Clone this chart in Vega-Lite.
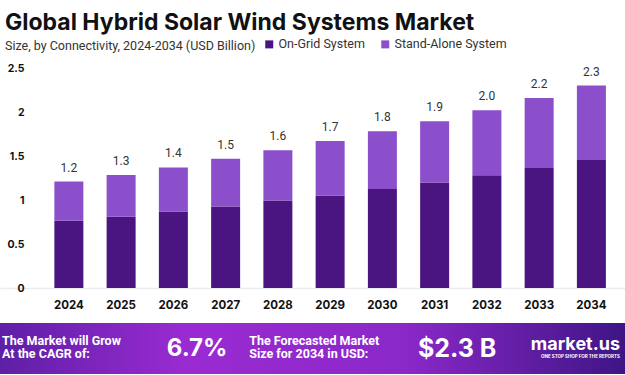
{
  "$schema": "https://vega.github.io/schema/vega-lite/v6.json",
  "background": "white",
  "padding": {"left": 0, "top": 11, "right": 0, "bottom": 0},
  "spacing": 12,
  "title": {
    "text": "Global Hybrid Solar Wind Systems Market",
    "subtitle": "Size, by Connectivity, 2024-2034 (USD Billion)",
    "anchor": "start",
    "frame": "bounds",
    "dx": 5,
    "offset": -14,
    "font": "Inter",
    "fontSize": 23,
    "fontWeight": "bold",
    "color": "#111111",
    "subtitleFont": "Roboto",
    "subtitleFontSize": 12.5,
    "subtitleColor": "#333333",
    "subtitlePadding": 5
  },
  "datasets": {
    "bars": [
      {"year": "2024", "system": "On-Grid System", "value": 0.765},
      {"year": "2024", "system": "Stand-Alone System", "value": 0.445},
      {"year": "2025", "system": "On-Grid System", "value": 0.81},
      {"year": "2025", "system": "Stand-Alone System", "value": 0.475},
      {"year": "2026", "system": "On-Grid System", "value": 0.87},
      {"year": "2026", "system": "Stand-Alone System", "value": 0.5},
      {"year": "2027", "system": "On-Grid System", "value": 0.925},
      {"year": "2027", "system": "Stand-Alone System", "value": 0.545},
      {"year": "2028", "system": "On-Grid System", "value": 0.995},
      {"year": "2028", "system": "Stand-Alone System", "value": 0.57},
      {"year": "2029", "system": "On-Grid System", "value": 1.05},
      {"year": "2029", "system": "Stand-Alone System", "value": 0.62},
      {"year": "2030", "system": "On-Grid System", "value": 1.125},
      {"year": "2030", "system": "Stand-Alone System", "value": 0.655},
      {"year": "2031", "system": "On-Grid System", "value": 1.2},
      {"year": "2031", "system": "Stand-Alone System", "value": 0.695},
      {"year": "2032", "system": "On-Grid System", "value": 1.28},
      {"year": "2032", "system": "Stand-Alone System", "value": 0.74},
      {"year": "2033", "system": "On-Grid System", "value": 1.365},
      {"year": "2033", "system": "Stand-Alone System", "value": 0.795},
      {"year": "2034", "system": "On-Grid System", "value": 1.455},
      {"year": "2034", "system": "Stand-Alone System", "value": 0.845}
    ],
    "totals": [
      {"year": "2024", "total": 1.21, "label": "1.2"},
      {"year": "2025", "total": 1.285, "label": "1.3"},
      {"year": "2026", "total": 1.37, "label": "1.4"},
      {"year": "2027", "total": 1.47, "label": "1.5"},
      {"year": "2028", "total": 1.565, "label": "1.6"},
      {"year": "2029", "total": 1.67, "label": "1.7"},
      {"year": "2030", "total": 1.78, "label": "1.8"},
      {"year": "2031", "total": 1.895, "label": "1.9"},
      {"year": "2032", "total": 2.02, "label": "2.0"},
      {"year": "2033", "total": 2.16, "label": "2.2"},
      {"year": "2034", "total": 2.3, "label": "2.3"}
    ],
    "banner": [
      {"key": "a", "kind": "small", "text": "The Market will Grow\nAt the CAGR of:"},
      {"key": "b", "kind": "bigleft", "text": "6.7%"},
      {"key": "c", "kind": "small", "text": "The Forecasted Market\nSize for 2034 in USD:"},
      {"key": "d", "kind": "bigright", "text": "$2.3 B"},
      {"key": "e", "kind": "logo", "text": "market.us"},
      {"key": "e", "kind": "tag", "text": "ONE STOP SHOP FOR THE REPORTS"}
    ]
  },
  "vconcat": [
    {
      "width": 625,
      "height": 220,
      "layer": [
        {
          "data": {"name": "bars"},
          "mark": {"type": "bar"},
          "encoding": {
            "x": {
              "field": "year",
              "type": "nominal",
              "scale": {"paddingInner": 0.445, "paddingOuter": 0.703, "align": 0.74},
              "axis": {
                "title": null,
                "labelAngle": 0,
                "labelFont": "Inter",
                "labelFontSize": 11.5,
                "labelFontWeight": "bold",
                "labelColor": "#111111",
                "labelPadding": 11,
                "ticks": false,
                "domainColor": "#ececec",
                "domainWidth": 1.5
              }
            },
            "y": {
              "field": "value",
              "type": "quantitative",
              "stack": "zero",
              "scale": {"domain": [0, 2.5], "nice": false},
              "axis": {
                "title": null,
                "values": [0, 0.5, 1, 1.5, 2, 2.5],
                "format": "~g",
                "grid": false,
                "domain": false,
                "ticks": false,
                "offset": -24,
                "labelAlign": "right",
                "labelFont": "Inter",
                "labelFontSize": 10.5,
                "labelFontWeight": "bold",
                "labelColor": "#111111",
                "labelPadding": 0
              }
            },
            "color": {
              "field": "system",
              "type": "nominal",
              "scale": {
                "domain": ["On-Grid System", "Stand-Alone System"],
                "range": ["#4a1580", "#8b4fcc"]
              },
              "legend": {
                "title": null,
                "orient": "none",
                "direction": "horizontal",
                "legendX": 263,
                "legendY": -30,
                "symbolType": "square",
                "symbolSize": 64,
                "symbolStrokeWidth": 0,
                "labelFont": "Roboto",
                "labelFontSize": 12.5,
                "labelColor": "#333333",
                "labelOffset": 3,
                "columnPadding": 14
              }
            },
            "order": {"field": "system", "sort": "ascending"}
          }
        },
        {
          "data": {"name": "totals"},
          "mark": {
            "type": "text",
            "baseline": "alphabetic",
            "dy": -10,
            "font": "Roboto",
            "fontSize": 12,
            "color": "#333333"
          },
          "encoding": {
            "x": {"field": "year", "type": "nominal"},
            "y": {"field": "total", "type": "quantitative"},
            "text": {"field": "label"}
          }
        }
      ]
    },
    {
      "width": 625,
      "height": 51,
      "data": {"name": "banner"},
      "encoding": {
        "x": {
          "field": "key",
          "type": "nominal",
          "scale": {
            "type": "point",
            "padding": 0,
            "domain": ["a", "f1", "f2", "f3", "b", "f4", "c", "f5", "f6", "f7", "f8", "f9", "d", "f10", "f11", "e"],
            "range": [2, 620]
          },
          "axis": null
        }
      },
      "layer": [
        {
          "mark": {
            "type": "rect",
            "color": {
              "gradient": "linear",
              "x1": 0, "y1": 0, "x2": 1, "y2": 0,
              "stops": [
                {"offset": 0, "color": "#5e1fa6"},
                {"offset": 0.3, "color": "#9a2bd2"},
                {"offset": 0.65, "color": "#8a28c8"},
                {"offset": 1, "color": "#3e1585"}
              ]
            }
          },
          "encoding": {"x": null}
        },
        {
          "transform": [{"filter": "datum.kind === 'small'"}],
          "mark": {
            "type": "text",
            "align": "left",
            "baseline": "middle",
            "lineBreak": "\n",
            "lineHeight": 13.5,
            "dy": -8,
            "font": "Roboto",
            "fontSize": 12.5,
            "fontWeight": "bold",
            "color": "white"
          },
          "encoding": {"text": {"field": "text"}}
        },
        {
          "transform": [{"filter": "datum.kind === 'bigleft'"}],
          "mark": {
            "type": "text",
            "align": "left",
            "baseline": "middle",
            "font": "Inter",
            "fontSize": 24,
            "fontWeight": "bold",
            "color": "white"
          },
          "encoding": {"text": {"field": "text"}}
        },
        {
          "transform": [{"filter": "datum.kind === 'bigright'"}],
          "mark": {
            "type": "text",
            "align": "right",
            "baseline": "middle",
            "font": "Inter",
            "fontSize": 25,
            "fontWeight": "bold",
            "color": "white"
          },
          "encoding": {"text": {"field": "text"}}
        },
        {
          "transform": [{"filter": "datum.kind === 'logo'"}],
          "mark": {
            "type": "text",
            "align": "right",
            "baseline": "middle",
            "dy": -4,
            "font": "Inter",
            "fontSize": 18,
            "fontWeight": "bold",
            "color": "white"
          },
          "encoding": {"text": {"field": "text"}}
        },
        {
          "transform": [{"filter": "datum.kind === 'tag'"}],
          "mark": {
            "type": "text",
            "align": "right",
            "baseline": "middle",
            "dy": 8,
            "font": "Inter",
            "fontSize": 4.5,
            "fontWeight": "bold",
            "color": "white"
          },
          "encoding": {"text": {"field": "text"}}
        }
      ]
    }
  ],
  "config": {
    "view": {"stroke": null},
    "font": "Inter"
  }
}
